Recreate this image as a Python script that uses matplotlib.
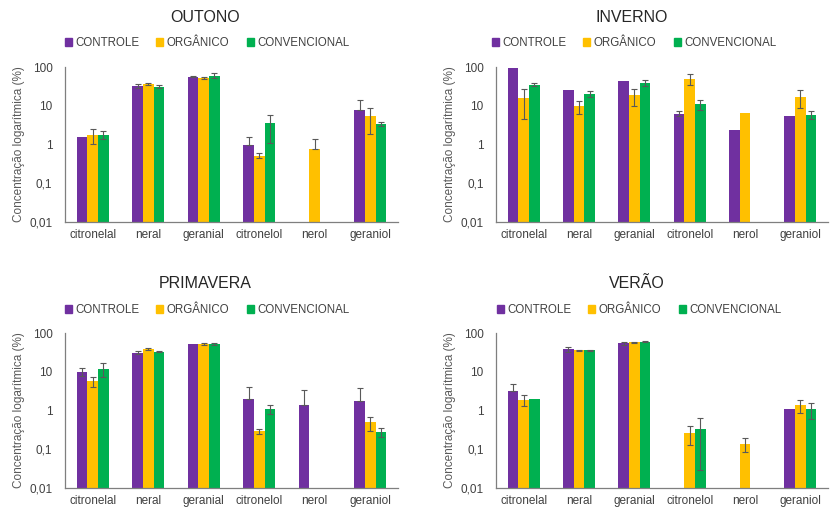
import numpy as np
import matplotlib
matplotlib.use('Agg')
import matplotlib.pyplot as plt
from matplotlib.patches import Patch

plt.rcParams['font.family'] = ['Liberation Sans', 'DejaVu Sans']

compounds = ['citronelal', 'neral', 'geranial', 'citronelol', 'nerol', 'geraniol']
treatments = ['CONTROLE', 'ORGÂNICO', 'CONVENCIONAL']
colors = ['#7030A0', '#FFC000', '#00B050']
nan = np.nan

# OUTONO
out_ctrl = [1.55, 32, 56, 0.95, nan, 8.0]
out_ctrl_sd = [0, 4, 1.5, 0.65, nan, 5.8]
out_org = [1.8, 36, 52, 0.52, 0.75, 5.4]
out_org_sd = [0.75, 2, 3, 0.08, 0.6, 3.5]
out_conv = [1.8, 31, 60, 3.5, nan, 3.4]
out_conv_sd = [0.4, 2.5, 8, 2.4, nan, 0.35]

# INVERNO
inv_ctrl = [94, 26, 43, 6.3, 2.3, 5.5]
inv_ctrl_sd = [0, 0, 0, 0.9, 0, 0]
inv_org = [16, 9.8, 18.5, 50, 6.6, 16.8]
inv_org_sd = [11.5, 3.5, 8.5, 15, 0, 8]
inv_conv = [35, 20.5, 38.5, 11, nan, 5.9]
inv_conv_sd = [3, 3.5, 7, 3, nan, 1.3]

# PRIMAVERA
pri_ctrl = [10, 31, 53, 2.0, 1.4, 1.8]
pri_ctrl_sd = [2.3, 2.5, 0, 2.0, 1.9, 1.9]
pri_org = [5.7, 38.5, 53, 0.29, nan, 0.5]
pri_org_sd = [1.7, 1.5, 3, 0.04, nan, 0.2]
pri_conv = [12, 33, 53, 1.07, nan, 0.28]
pri_conv_sd = [4.5, 1.5, 3, 0.28, nan, 0.07]

# VERÃO
ver_ctrl = [3.1, 38.5, 55, nan, nan, 1.07]
ver_ctrl_sd = [1.8, 6, 5, nan, nan, 0]
ver_org = [1.9, 35.5, 58, 0.27, 0.14, 1.36]
ver_org_sd = [0.6, 0.5, 1.5, 0.14, 0.055, 0.5]
ver_conv = [2.0, 35.5, 60, 0.33, nan, 1.07]
ver_conv_sd = [0, 2, 0.5, 0.3, nan, 0.48]

# bars whose lower whisker is not shown in the original (season, treatment, compound)
no_lower = [('OUTONO', 0, 3), ('OUTONO', 0, 5), ('OUTONO', 1, 4),
            ('PRIMAVERA', 0, 3), ('PRIMAVERA', 0, 4), ('PRIMAVERA', 0, 5),
            ('VERÃO', 0, 0)]

seasons = [
    ('OUTONO', [out_ctrl, out_org, out_conv], [out_ctrl_sd, out_org_sd, out_conv_sd]),
    ('INVERNO', [inv_ctrl, inv_org, inv_conv], [inv_ctrl_sd, inv_org_sd, inv_conv_sd]),
    ('PRIMAVERA', [pri_ctrl, pri_org, pri_conv], [pri_ctrl_sd, pri_org_sd, pri_conv_sd]),
    ('VERÃO', [ver_ctrl, ver_org, ver_conv], [ver_ctrl_sd, ver_org_sd, ver_conv_sd]),
]

W, H = 836, 516
fig = plt.figure(figsize=(W / 100, H / 100), dpi=100)

# pixel boxes: left, top, right, bottom of axes; title/legend centers
panels = [
    dict(box=(65, 67, 398, 222), tx=205, ty=17, ly=43),
    dict(box=(496, 67, 828, 222), tx=632, ty=17, ly=43),
    dict(box=(65, 333, 398, 488), tx=205, ty=283, ly=310),
    dict(box=(496, 333, 828, 488), tx=637, ty=283, ly=310),
]

text_col = '#404040'
x = np.arange(len(compounds))
bw = 0.193

for (name, means, sds), p in zip(seasons, panels):
    l, t, r, b = p['box']
    ax = fig.add_axes([l / W, 1 - b / H, (r - l) / W, (b - t) / H])
    for i in range(3):
        m = np.array(means[i], dtype=float)
        s = np.array(sds[i], dtype=float)
        pos = x + (i - 1) * bw
        ok = ~np.isnan(m)
        ax.bar(pos[ok], m[ok], width=bw, color=colors[i], zorder=2)
        lo = np.minimum(s, m * 0.999)
        for (sn, ti, ci) in no_lower:
            if sn == name and ti == i:
                lo[ci] = 0
        e = ok & (s > 0)
        ax.errorbar(pos[e], m[e], yerr=[lo[e], s[e]], fmt='none',
                    ecolor='#595959', elinewidth=0.8, capsize=2.5,
                    capthick=0.8, zorder=3)
    ax.set_yscale('log')
    ax.set_ylim(0.01, 100)
    ax.set_xlim(-0.5, len(compounds) - 0.5)
    ax.set_yticks([0.01, 0.1, 1, 10, 100])
    ax.set_yticklabels(['0,01', '0,1', '1', '10', '100'])
    ax.minorticks_off()
    ax.set_xticks(x)
    ax.set_xticklabels(compounds)
    ax.tick_params(length=0, labelsize=8.5, labelcolor=text_col)
    ax.tick_params(axis='y', pad=9)
    ax.tick_params(axis='x', pad=5)
    for sp in ['top', 'right']:
        ax.spines[sp].set_visible(False)
    for sp in ['left', 'bottom']:
        ax.spines[sp].set_color('#7f7f7f')
        ax.spines[sp].set_linewidth(0.9)
    ax.set_ylabel('Concentração logarítmica (%)', fontsize=8.5,
                  color='#595959', labelpad=3)

    fig.text(p['tx'] / W, 1 - p['ty'] / H, name, ha='center', va='center',
             fontsize=11.5, color='#262626')
    handles = [Patch(color=c) for c in colors]
    fig.legend(handles, treatments, loc='center',
               bbox_to_anchor=((p['tx'] + 2) / W, 1 - p['ly'] / H),
               ncol=3, frameon=False, fontsize=8.3, labelcolor=text_col,
               handlelength=0.6, handleheight=0.6, handletextpad=0.3,
               columnspacing=1.5, borderpad=0)

fig.savefig('out.png', dpi=100)
